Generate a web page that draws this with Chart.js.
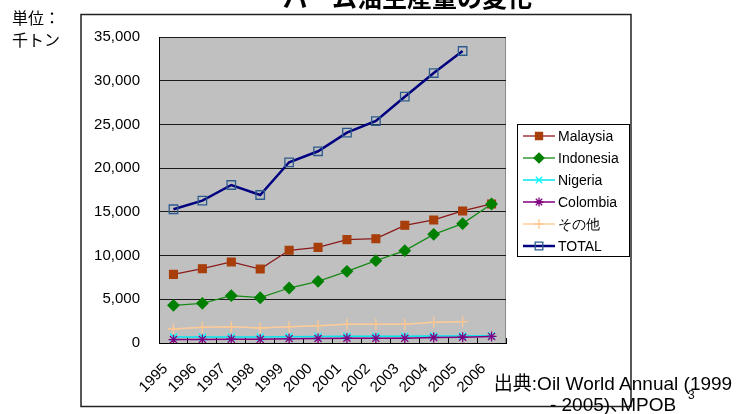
<!DOCTYPE html>
<html>
<head>
<meta charset="utf-8">
<script src="https://cdn.jsdelivr.net/npm/chart.js@4/dist/chart.umd.min.js"></script>
<style>
  body { margin: 0; background: #fff; }
  #wrap { position: relative; width: 738px; height: 414px; overflow: hidden; background: #fff; }
  #chart { position: absolute; left: 0; top: 0; }
  .jp { font-family: "Noto Sans CJK JP", "Noto Sans", sans-serif; color: #000; position: absolute; }
  #title { left: 0; width: 815px; text-align: center; top: -16px; font-size: 25px; line-height: 1; font-weight: bold; white-space: nowrap; }
  #unit { left: 12px; top: 6px; font-size: 16px; line-height: 22px; }
  #source { left: 482px; width: 262px; top: 373px; font-size: 19px; line-height: 21px; text-align: center; white-space: nowrap;
            font-family: "Liberation Sans", "Noto Sans CJK JP", sans-serif; }
  #source .comma { margin-right: -9px; }
  #page { left: 688px; top: 388px; font-size: 12px; font-family: "Liberation Sans", sans-serif; }
</style>
</head>
<body>
<div id="wrap">
  <canvas id="chart" width="738" height="414"></canvas>
  <div id="title" class="jp">パーム油生産量の変化</div>
  <div id="unit" class="jp">単位：<br>千トン</div>
  <div id="source" class="jp">出典:Oil World Annual (1999<br>- 2005)<span class="comma">、</span>MPOB</div>
  <div id="page" class="jp">3</div>
</div>
<script>
// 生産量（千トン）
const years = ['1995', '1996', '1997', '1998', '1999', '2000', '2001', '2002', '2003', '2004', '2005', '2006'];
const malaysia  = [7850, 8500, 9270, 8460, 10600, 10940, 11820, 11930, 13460, 14070, 15100, 15900];
const indonesia = [4310, 4540, 5410, 5180, 6290, 7050, 8200, 9420, 10560, 12430, 13650, 15900];
const nigeria   = [680, 690, 700, 690, 720, 740, 770, 775, 785, 790, 800, 830];
const colombia  = [390, 410, 440, 420, 500, 520, 550, 530, 530, 630, 660, 750];
const others    = [1600, 1790, 1870, 1720, 1870, 1980, 2140, 2140, 2140, 2360, 2440, null];
const total     = [15300, 16280, 18070, 16930, 20670, 21930, 24060, 25390, 28170, 30880, 33400, null];
const yTicks    = [0, 5000, 10000, 15000, 20000, 25000, 30000, 35000];

const tickFont = { family: '"Liberation Sans", Arial, sans-serif', size: 15 };

function series(label, data, line, marker, style, radius, width, hollow) {
    return {
        label: label,
        data: data,
        borderColor: line,
        borderWidth: width,
        backgroundColor: marker,
        pointStyle: style,
        pointRadius: radius,
        pointHoverRadius: radius,
        pointBackgroundColor: hollow ? 'rgba(0,0,0,0)' : marker,
        pointBorderColor: marker,
        pointBorderWidth: 1.3,
        tension: 0,
        spanGaps: false
    };
}

// gray plot area and the outer frame
const plotBackground = {
    id: 'plotBackground',
    beforeDraw(chart) {
        const ctx = chart.ctx;
        const a = chart.chartArea;
        ctx.save();
        ctx.fillStyle = '#c0c0c0';
        ctx.fillRect(a.left, a.top, a.right - a.left, a.bottom - a.top);
        ctx.strokeStyle = '#8a8a8a';
        ctx.lineWidth = 1;
        ctx.strokeRect(a.left + 0.5, a.top + 0.5, a.right - a.left - 1, a.bottom - a.top);
        ctx.strokeStyle = '#222';
        ctx.lineWidth = 1.5;
        ctx.strokeRect(81, 14.5, 550, 392);
        ctx.restore();
    }
};

// legend with line + marker like the series
const seriesLegend = {
    id: 'seriesLegend',
    afterDraw(chart) {
        const ctx = chart.ctx;
        const x0 = 517, y0 = 124, w = 112, h = 132, rowH = 22;
        ctx.save();
        ctx.fillStyle = '#fff';
        ctx.fillRect(x0, y0, w, h);
        ctx.strokeStyle = '#000';
        ctx.lineWidth = 1;
        ctx.strokeRect(x0 + 0.5, y0 + 0.5, w, h);
        ctx.font = '14px "Liberation Sans", Arial, sans-serif';
        ctx.textBaseline = 'middle';
        chart.data.datasets.forEach(function(ds, i) {
            const y = y0 + 12 + i * rowH;
            ctx.strokeStyle = ds.borderColor;
            ctx.lineWidth = ds.borderWidth;
            ctx.beginPath();
            ctx.moveTo(x0 + 6, y);
            ctx.lineTo(x0 + 38, y);
            ctx.stroke();
            ctx.fillStyle = ds.pointBackgroundColor;
            ctx.strokeStyle = ds.pointBorderColor;
            ctx.lineWidth = ds.pointBorderWidth;
            Chart.helpers.drawPoint(ctx, {
                pointStyle: ds.pointStyle,
                radius: ds.pointRadius * 0.9,
                rotation: 0,
                borderWidth: ds.pointBorderWidth
            }, x0 + 22, y);
            ctx.fillStyle = '#000';
            ctx.fillText(ds.label, x0 + 41, y + 1);
        });
        ctx.restore();
    }
};

const datasets = [
    series('Malaysia', malaysia, '#8b1a1a', '#a83e0a', 'rect', 5.5, 1.3, false),
    series('Indonesia', indonesia, '#178a17', '#008000', 'rectRot', 5.5, 1.3, false),
    series('Nigeria', nigeria, '#00e5ee', '#00ffff', 'crossRot', 5, 1.5, false),
    series('Colombia', colombia, '#800080', '#800080', 'star', 5, 1.5, false),
    series('その他', others, '#ffcc99', '#ffc890', 'cross', 5.5, 1.5, false),
    series('TOTAL', total, '#000080', '#2c5a8c', 'rect', 6, 2.5, true)
];
// later series are drawn on top
datasets.forEach(function(ds, i) { ds.order = datasets.length - i; });

const config = {
    type: 'line',
    data: { labels: years, datasets: datasets },
    options: {
        responsive: false,
        animation: false,
        layout: { padding: { left: 0, right: 232, top: 37, bottom: 0 } },
        plugins: {
            legend: { display: false },
            title: { display: false },
            tooltip: { enabled: false }
        },
        scales: {
            x: {
                type: 'category',
                offset: true,
                grid: { offset: true, drawOnChartArea: false, color: '#000', tickLength: -5, tickWidth: 1 },
                border: { display: true, color: '#000', width: 1 },
                ticks: {
                    color: '#000', font: tickFont, minRotation: 45, maxRotation: 45,
                    autoSkip: false, padding: 22, labelOffset: -8
                },
                afterFit: function(scale) { scale.height = 71; }
            },
            y: {
                min: 0,
                max: 35000,
                afterBuildTicks: function(scale) {
                    scale.ticks = yTicks.map(function(v) { return { value: v }; });
                },
                grid: { color: '#1a1a1a', lineWidth: 1, drawTicks: false },
                border: { display: true, color: '#000', width: 1 },
                ticks: {
                    color: '#000', font: tickFont, padding: 19,
                    callback: function(v) { return v.toLocaleString('en-US'); }
                },
                afterFit: function(scale) { scale.width = 159; }
            }
        }
    },
    plugins: [plotBackground, seriesLegend]
};

const myChart = new Chart(document.getElementById('chart'), config);
</script>
</body>
</html>
